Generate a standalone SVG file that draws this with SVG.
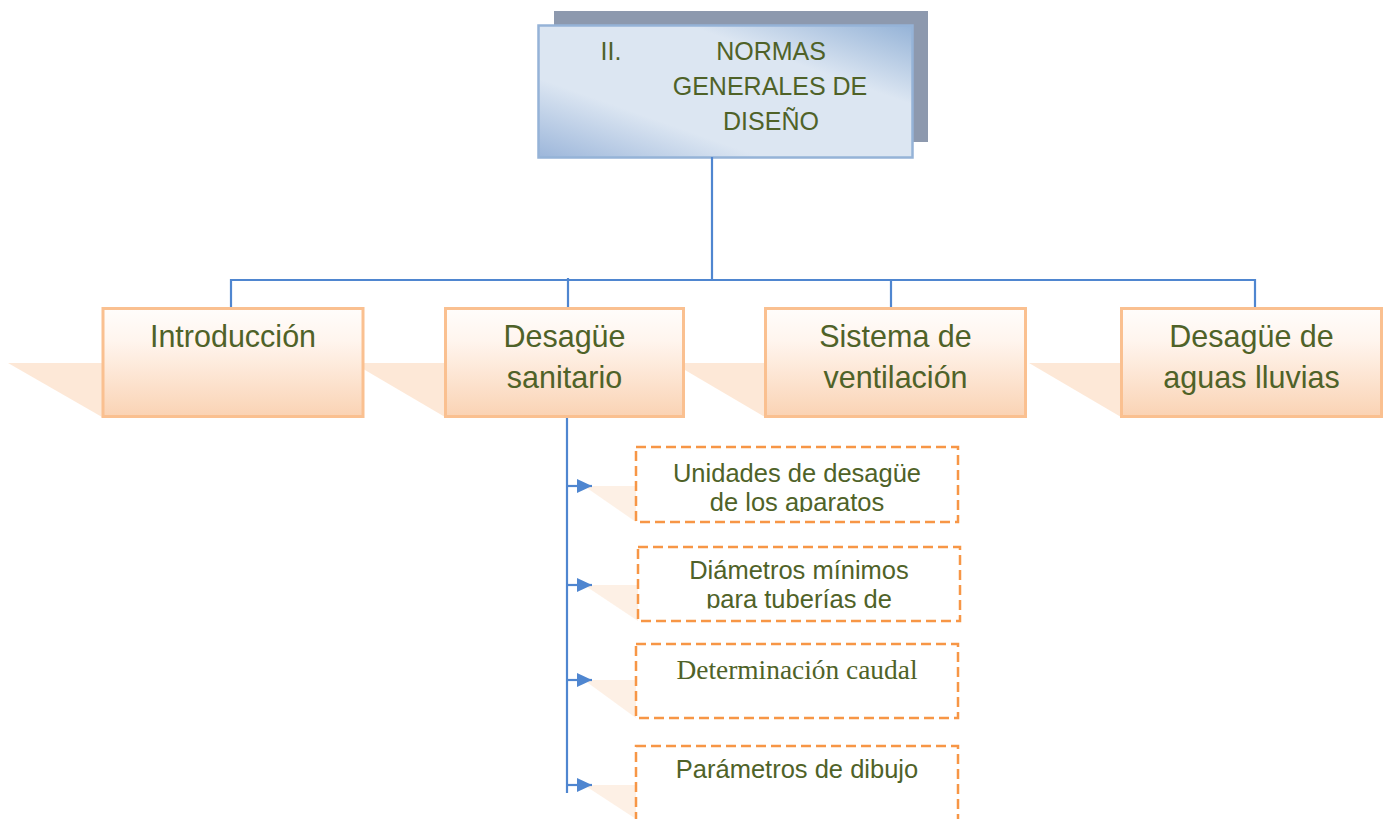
<svg xmlns="http://www.w3.org/2000/svg" width="1385" height="819" viewBox="0 0 1385 819">
  <defs>
    <style>
      .t { font-family: "Liberation Sans", Arial, sans-serif; fill: #4f6228; text-anchor: middle; }
      .big { font-size: 30.5px; }
      .top { font-size: 25px; }
      .small { font-size: 25.5px; }
      .serif { font-family: "Liberation Serif", "DejaVu Serif", serif; font-size: 27.4px; fill: #4f6228; text-anchor: middle; }
      .obox { fill: url(#og); stroke: #fac090; stroke-width: 3; }
      .oshadow { fill: #fbd9bd; opacity: 0.6; }
      .dshadow { fill: #fdeee2; opacity: 0.9; }
      .dbox { fill: none; stroke: #f79646; stroke-width: 2.5; stroke-dasharray: 10 5; }
      .conn { stroke: #4f86d0; stroke-width: 2.2; fill: none; }
    </style>
    <linearGradient id="og" x1="0" y1="0" x2="0" y2="1">
      <stop offset="0" stop-color="#fffdfb"/>
      <stop offset="0.3" stop-color="#fff5ee"/>
      <stop offset="1" stop-color="#fad3b4"/>
    </linearGradient>
    <linearGradient id="bg" x1="0" y1="1" x2="1" y2="0">
      <stop offset="0" stop-color="#9cb6da"/>
      <stop offset="0.3" stop-color="#dce6f2"/>
      <stop offset="0.7" stop-color="#dce6f2"/>
      <stop offset="1" stop-color="#95b3d7"/>
    </linearGradient>
    <marker id="arr" viewBox="0 0 15 14" refX="15" refY="7" markerWidth="15" markerHeight="14" markerUnits="userSpaceOnUse" orient="auto">
      <path d="M0,0 L15,7 L0,14 Z" fill="#4f86d0"/>
    </marker>
    <clipPath id="c1"><rect x="636" y="447" width="322" height="65"/></clipPath>
    <clipPath id="c2"><rect x="638" y="547" width="322" height="61.5"/></clipPath>
  </defs>

  <rect width="1385" height="819" fill="#ffffff"/>

  <g id="root">
    <rect x="554" y="11" width="374" height="131" fill="#8d99ae"/>
    <rect x="538.5" y="25.5" width="374" height="132" fill="url(#bg)" stroke="#95b3d7" stroke-width="2.5"/>
    <text class="t top" x="611" y="60">II.</text>
    <text class="t top" x="771" y="60">NORMAS</text>
    <text class="t top" x="770" y="95">GENERALES DE</text>
    <text class="t top" x="771" y="130">DISEÑO</text>
  </g>

  <g id="shadows">
    <polygon class="oshadow" points="8,363 102,363 102,417"/>
    <polygon class="oshadow" points="353,363 445,363 445,417"/>
    <polygon class="oshadow" points="673,363 765,363 765,417"/>
    <polygon class="oshadow" points="1029,363 1121,363 1121,417"/>
    <polygon class="dshadow" points="584,486 636,486 636,522"/>
    <polygon class="dshadow" points="584,585 638,585 638,621"/>
    <polygon class="dshadow" points="584,680 636,680 636,718"/>
    <polygon class="dshadow" points="584,785 636,785 636,819"/>
  </g>

  <g id="connectors">
    <path class="conn" d="M712,157 V280 M231,280 H1255 M231,279 V308 M568,278 V308 M891,279 V308 M1255,279 V308"/>
    <path class="conn" d="M567,417 V793"/>
    <path class="conn" d="M567,486 H592" marker-end="url(#arr)"/>
    <path class="conn" d="M567,585 H592" marker-end="url(#arr)"/>
    <path class="conn" d="M567,680 H592" marker-end="url(#arr)"/>
    <path class="conn" d="M567,785 H592" marker-end="url(#arr)"/>
  </g>

  <g id="introduccion">
    <rect class="obox" x="103" y="308.5" width="260" height="108"/>
    <text class="t big" x="233" y="347">Introducción</text>
  </g>
  <g id="desague-sanitario">
    <rect class="obox" x="445.5" y="308.5" width="238" height="108"/>
    <text class="t big" x="564.5" y="347">Desagüe</text>
    <text class="t big" x="564.5" y="388">sanitario</text>
  </g>
  <g id="sistema-ventilacion">
    <rect class="obox" x="765.5" y="308.5" width="260" height="108"/>
    <text class="t big" x="895.5" y="347">Sistema de</text>
    <text class="t big" x="895.5" y="388">ventilación</text>
  </g>
  <g id="desague-aguas">
    <rect class="obox" x="1121.5" y="308.5" width="260" height="108"/>
    <text class="t big" x="1251.5" y="347">Desagüe de</text>
    <text class="t big" x="1251.5" y="388">aguas lluvias</text>
  </g>

  <g id="unidades">
    <rect class="dbox" x="636" y="447" width="322" height="75"/>
    <g clip-path="url(#c1)">
      <text class="t small" x="797" y="482">Unidades de desagüe</text>
      <text class="t small" x="797" y="511">de los aparatos</text>
    </g>
  </g>
  <g id="diametros">
    <rect class="dbox" x="638" y="547" width="322" height="74"/>
    <g clip-path="url(#c2)">
      <text class="t small" x="799" y="579">Diámetros mínimos</text>
      <text class="t small" x="799" y="608">para tuberías de</text>
    </g>
  </g>
  <g id="determinacion">
    <rect class="dbox" x="636" y="644" width="322" height="74"/>
    <text class="serif" x="797" y="679">Determinación caudal</text>
  </g>
  <g id="parametros">
    <rect class="dbox" x="636" y="746" width="322" height="76"/>
    <text class="t small" x="797" y="778">Parámetros de dibujo</text>
  </g>
</svg>
